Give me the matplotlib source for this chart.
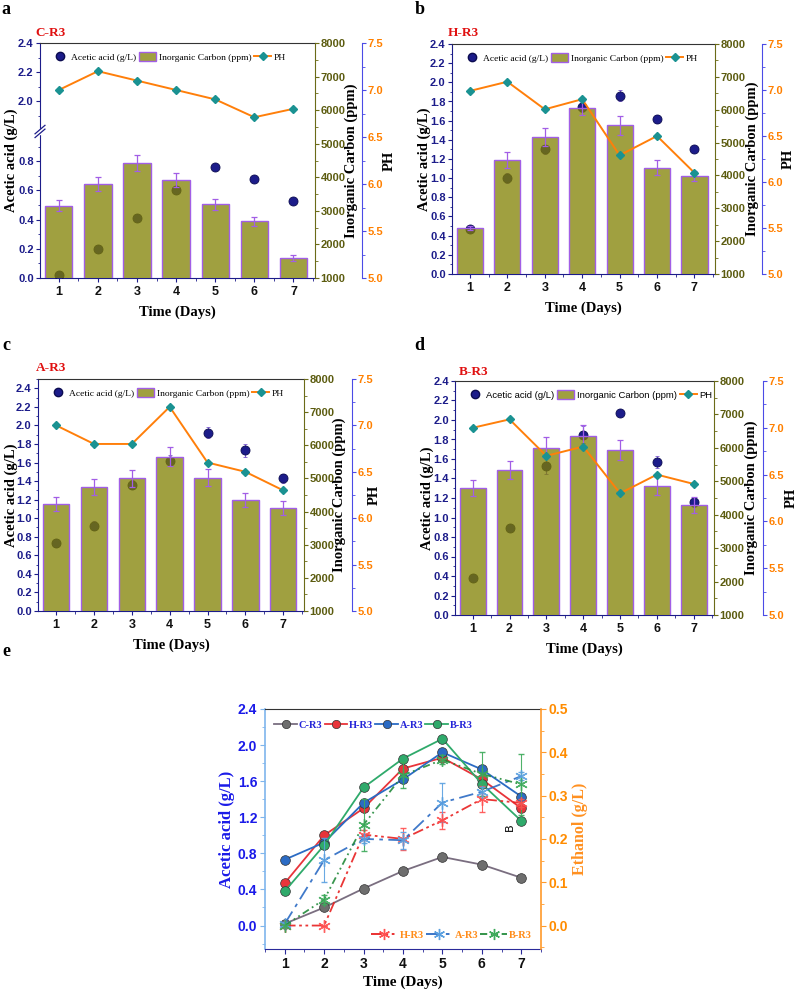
import numpy as np
import matplotlib.pyplot as plt
from matplotlib.lines import Line2D
from matplotlib.patches import Patch, Rectangle
from matplotlib.ticker import MultipleLocator, FixedLocator, FormatStrFormatter

W, H = 797, 992
SANS = ['Liberation Sans Narrow', 'Liberation Sans', 'DejaVu Sans']
SERIF = ['Liberation Serif', 'DejaVu Serif']
plt.rcParams['font.family'] = SANS
plt.rcParams['font.weight'] = 'bold'

days = [1, 2, 3, 4, 5, 6, 7]

# acetic acid (g/L)
acetic_c = [0.02, 0.20, 0.41, 0.605, 0.76, 0.675, 0.53]
acetic_h = [0.47, 1.00, 1.30, 1.74, 1.86, 1.62, 1.30]
acetic_a = [0.73, 0.92, 1.36, 1.62, 1.92, 1.73, 1.43]
acetic_b = [0.38, 0.89, 1.53, 1.85, 2.07, 1.57, 1.16]
acetic_err_c = [0.01, 0.01, 0.01, 0.01, 0.01, 0.01, 0.01]
acetic_err_h = [0.03, 0.05, 0.05, 0.05, 0.06, 0.04, 0.03]
acetic_err_a = [0.04, 0.05, 0.05, 0.06, 0.06, 0.07, 0.05]
acetic_err_b = [0.02, 0.03, 0.08, 0.09, 0.03, 0.06, 0.05]

# inorganic carbon (ppm)
ic_c = [3150, 3800, 4420, 3920, 3190, 2690, 1600]
ic_h = [2400, 4480, 5170, 6060, 5530, 4240, 3970]
ic_a = [4220, 4730, 5000, 5650, 5020, 4350, 4100]
ic_b = [4810, 5330, 6010, 6340, 5930, 4850, 4280]
ic_err_c = [165, 200, 230, 210, 170, 140, 90]
ic_err_h = [50, 240, 280, 220, 290, 240, 150]
ic_err_a = [215, 240, 250, 290, 250, 225, 205]
ic_err_b = [240, 270, 300, 330, 300, 265, 235]

# pH
ph_c = [7.0, 7.2, 7.1, 7.0, 6.9, 6.71, 6.8]
ph_h = [6.99, 7.09, 6.79, 6.90, 6.29, 6.50, 6.10]
ph_a = [7.0, 6.8, 6.8, 7.2, 6.6, 6.5, 6.3]
ph_b = [7.0, 7.09, 6.70, 6.80, 6.30, 6.50, 6.40]

# ethanol (g/L)
eth_h = [0.0, 0.0, 0.21, 0.20, 0.243, 0.292, 0.283]
eth_a = [0.004, 0.151, 0.20, 0.197, 0.284, 0.309, 0.345]
eth_b = [0.0, 0.06, 0.233, 0.347, 0.383, 0.35, 0.326]
eth_err_h = [0.0, 0.0, 0.01, 0.025, 0.02, 0.03, 0.01]
eth_err_a = [0.005, 0.05, 0.01, 0.02, 0.045, 0.01, 0.01]
eth_err_b = [0.0, 0.01, 0.06, 0.03, 0.01, 0.05, 0.07]

NAVY = '#1c1c8a'
OLIVE_TXT = '#5c5c10'
PURPLE = '#a25ee6'
ORANGE = '#ff7f0a'
TEAL = '#1a9292'


def px_rect(x0, y0, x1, y1):
    return [x0 / W, 1 - y1 / H, (x1 - x0) / W, (y1 - y0) / H]


def fwd(y):
    y = np.asarray(y, float)
    return np.where(y <= 1.0, y, np.where(y >= 1.8, y - 0.79, 1.0 + (y - 1.0) * 0.0125))


def inv(t):
    t = np.asarray(t, float)
    return np.where(t <= 1.0, t, np.where(t >= 1.01, t + 0.79, 1.0 + (t - 1.0) / 0.0125))


fig = plt.figure(figsize=(W / 100, H / 100), dpi=100)


def bar_panel(box, acetic, acetic_err, ic, ic_err, ph, ac_top, offs, broken=False, leg_family=SERIF):
    x0, y0, x1, y1 = box
    wpx, hpx = x1 - x0, y1 - y0
    ax = fig.add_axes(px_rect(*box))
    ax_ic = ax.twinx()
    ax_ph = ax.twinx()
    ax_ph.spines['right'].set_position(('axes', 1 + offs[3] / wpx))

    if broken:
        ax.set_yscale('function', functions=(fwd, inv))

    ax.errorbar(days, acetic, yerr=acetic_err, fmt='o', ms=6.5, mfc=NAVY, mec='#0c0c50',
                mew=0.6, ecolor='#7a5acc', elinewidth=0.8, capsize=1.5, zorder=3)
    ax_ic.bar(days, ic, width=0.7, color=(0.5, 0.5, 0.0, 0.75), edgecolor=PURPLE, lw=1.0)
    ax_ic.errorbar(days, ic, yerr=ic_err, fmt='none', ecolor=PURPLE, elinewidth=0.9,
                   capsize=2.2, capthick=0.9)
    ax_ph.plot(days, ph, color=ORANGE, lw=1.4, marker='D', ms=4.5, mfc=TEAL, mec=TEAL)

    ax.set_xlim(0.52, 7.55)
    ax.set_ylim(0, ac_top)
    ax_ic.set_ylim(1000, 8000)
    ax_ph.set_ylim(5.0, 7.5)

    ax.xaxis.set_major_locator(FixedLocator(days))
    ax.xaxis.set_minor_locator(MultipleLocator(0.5))
    if broken:
        ax.yaxis.set_major_locator(FixedLocator([0, 0.2, 0.4, 0.6, 0.8, 2.0, 2.2, 2.4]))
        ax.yaxis.set_minor_locator(FixedLocator([0.1, 0.3, 0.5, 0.7, 0.9, 1.9, 2.1, 2.3]))
    else:
        ax.yaxis.set_major_locator(MultipleLocator(0.2))
        ax.yaxis.set_minor_locator(MultipleLocator(0.1))
    ax.yaxis.set_major_formatter(FormatStrFormatter('%.1f'))
    ax_ic.yaxis.set_major_locator(MultipleLocator(1000))
    ax_ic.yaxis.set_minor_locator(MultipleLocator(500))
    ax_ph.yaxis.set_major_locator(MultipleLocator(0.5))
    ax_ph.yaxis.set_minor_locator(MultipleLocator(0.25))
    ax_ph.yaxis.set_major_formatter(FormatStrFormatter('%.1f'))

    ax.tick_params(axis='both', which='both', direction='out', color=NAVY)
    ax.tick_params(axis='y', labelcolor=NAVY, labelsize=8, pad=1.5)
    ax.tick_params(axis='x', labelcolor='#111111', labelsize=9, pad=3)
    ax.tick_params(which='major', length=3)
    ax.tick_params(which='minor', length=1.8)
    ax_ic.tick_params(axis='y', which='both', labelsize=8, labelcolor=OLIVE_TXT, color='#6b6b18', pad=1)
    ax_ic.tick_params(which='major', length=3)
    ax_ic.tick_params(which='minor', length=1.8)
    ax_ph.tick_params(axis='y', which='both', labelsize=8, labelcolor='#ff8000', color='#4b4be6', pad=1)
    ax_ph.tick_params(which='major', length=3)
    ax_ph.tick_params(which='minor', length=1.8)

    for s in ['left', 'bottom']:
        ax.spines[s].set_color(NAVY)
    ax.spines['top'].set_color('#333333')
    ax.spines['right'].set_visible(False)
    for s in ['left', 'top', 'bottom']:
        ax_ic.spines[s].set_visible(False)
        ax_ph.spines[s].set_visible(False)
    ax_ic.spines['right'].set_color('#6b6b18')
    ax_ph.spines['right'].set_color('#4b4be6')

    if broken:
        yb = float(fwd(1.0) + 0.004) / float(fwd(ac_top))
        ax.add_patch(Rectangle((-0.01, yb - 0.012), 0.02, 0.024, transform=ax.transAxes,
                               color='white', clip_on=False, zorder=5))
        for d in (-0.008, 0.008):
            ax.plot([-0.018, 0.018], [yb + d - 0.018, yb + d + 0.018], transform=ax.transAxes,
                    color=NAVY, lw=0.9, clip_on=False, zorder=6)

    lab = dict(family=SERIF, size=10.5, color='black', ha='center', va='center')
    ax.text(-offs[0] / wpx, 0.5, 'Acetic acid (g/L)', transform=ax.transAxes, rotation=90, **lab)
    ax.text(1 + offs[1] / wpx, 0.5, 'Inorganic Carbon (ppm)', transform=ax.transAxes, rotation=90, **lab)
    ax.text(1 + offs[2] / wpx, 0.5, 'PH', transform=ax.transAxes, rotation=90, **lab)
    ax.text(0.5, -34 / hpx, 'Time (Days)', transform=ax.transAxes, **lab)

    handles = [Line2D([], [], ls='none', marker='o', ms=6, mfc=NAVY, mec='#0c0c50'),
               Patch(facecolor=(0.5, 0.5, 0.0, 0.75), edgecolor=PURPLE, lw=1.0),
               Line2D([], [], color=ORANGE, lw=1.4, marker='D', ms=4.5, mfc=TEAL, mec=TEAL)]
    labels = ['Acetic acid (g/L)', 'Inorganic Carbon (ppm)', 'PH']
    ax_ph.legend(handles, labels, loc='upper left', bbox_to_anchor=(0.01, 1.0), ncol=3,
                 frameon=False, prop=dict(family=leg_family, size=6.8, weight='normal'),
                 handlelength=1.8, handleheight=1.2, columnspacing=0.3, handletextpad=0.3)
    return ax


bar_panel((40, 43, 315, 278), acetic_c, acetic_err_c, ic_c, ic_err_c, ph_c, 2.4,
          (29, 36, 74, 47), broken=True)
bar_panel((452, 44, 715, 274), acetic_h, acetic_err_h, ic_h, ic_err_h, ph_h, 2.4,
          (28, 37, 73, 47))
bar_panel((38, 379, 304, 611), acetic_a, acetic_err_a, ic_a, ic_err_a, ph_a, 2.5,
          (27, 35, 70, 48))
bar_panel((455, 381, 714, 615), acetic_b, acetic_err_b, ic_b, ic_err_b, ph_b, 2.4,
          (28, 37, 77, 49), leg_family=SANS)

# panel letters and titles
let = dict(family=SERIF, size=13, color='black', ha='center', va='center')
fig.text(5.5 / W, 1 - 10 / H, 'a', **let)
fig.text(419.5 / W, 1 - 10 / H, 'b', **let)
fig.text(6 / W, 1 - 345 / H, 'c', **let)
fig.text(419 / W, 1 - 345 / H, 'd', **let)
fig.text(6 / W, 1 - 652 / H, 'e', **let)
ttl = dict(family=SERIF, size=9.5, color='#e01010', ha='center', va='center')
fig.text(51 / W, 1 - 33 / H, 'C-R3', **ttl)
fig.text(463 / W, 1 - 33 / H, 'H-R3', **ttl)
fig.text(51 / W, 1 - 368 / H, 'A-R3', **ttl)
fig.text(474 / W, 1 - 372 / H, 'B-R3', **ttl)

# panel e
ax_e = fig.add_axes(px_rect(265, 709, 541, 949))
ax_et = ax_e.twinx()

series = [('C-R3', acetic_c, '#6e6e6e', '#7a6e80'),
          ('H-R3', acetic_h, '#e8343a', '#e8343a'),
          ('A-R3', acetic_a, '#2b6bc4', '#2b6bc4'),
          ('B-R3', acetic_b, '#2faa6b', '#2faa6b')]
top_handles = []
for name, vals, mcol, lcol in series:
    ax_e.plot(days, vals, color=lcol, lw=1.3, marker='o', ms=7, mfc=mcol, mec='#333333', mew=0.5)
    top_handles.append(Line2D([], [], color=lcol, lw=1.3, marker='o', ms=6, mfc=mcol, mec='#333333', mew=0.5))

eth_series = [('H-R3', eth_h, eth_err_h, '#e82020', '#ff5050', (0, (6, 2, 1.5, 2, 1.5, 2))),
              ('A-R3', eth_a, eth_err_a, '#2b6bc4', '#5aa0e0', (0, (8, 3, 2, 3))),
              ('B-R3', eth_b, eth_err_b, '#238b3b', '#3caa5a', (0, (4, 2, 1, 2, 1, 2)))]
bot_handles = []
for name, vals, err, lcol, mcol, ls in eth_series:
    ax_et.errorbar(days, vals, yerr=err, color=lcol, linestyle=ls, lw=1.3, marker=(6, 2, 0), ms=9,
                   mec=mcol, mew=1.0, ecolor=mcol, elinewidth=0.8, capsize=2, alpha=0.9)
    bot_handles.append(Line2D([], [], color=lcol, linestyle=ls, lw=1.3, marker=(6, 2, 0), ms=8,
                              mec=mcol, mew=1.0))

ax_e.set_xlim(0.5, 7.5)
ax_e.set_ylim(-0.26, 2.4)
ax_et.set_ylim(-0.26 / 2.4 * 0.5, 0.5)
ax_e.xaxis.set_major_locator(FixedLocator(days))
ax_e.xaxis.set_minor_locator(MultipleLocator(0.5))
ax_e.yaxis.set_major_locator(MultipleLocator(0.4))
ax_e.yaxis.set_minor_locator(MultipleLocator(0.2))
ax_e.yaxis.set_major_formatter(FormatStrFormatter('%.1f'))
ax_et.yaxis.set_major_locator(MultipleLocator(0.1))
ax_et.yaxis.set_minor_locator(MultipleLocator(0.05))
ax_et.yaxis.set_major_formatter(FormatStrFormatter('%.1f'))

ax_e.tick_params(axis='both', which='both', direction='out', labelsize=10)
ax_e.tick_params(axis='y', which='both', labelcolor='#1a1ae8', color='#7fb5ec', pad=2)
ax_e.tick_params(axis='x', which='both', labelcolor='#111111', color='#2a2a9a', pad=2.5)
ax_e.tick_params(which='major', length=3.5)
ax_e.tick_params(which='minor', length=2)
ax_et.tick_params(axis='y', which='both', labelsize=10, labelcolor='#ff8c00', color='#ff9a2a', pad=2)
ax_et.tick_params(which='major', length=3.5)
ax_et.tick_params(which='minor', length=2)
ax_e.spines['left'].set_color('#7fb5ec')
ax_e.spines['left'].set_linewidth(1.2)
ax_e.spines['bottom'].set_color('#2a2a9a')
ax_e.spines['top'].set_color('#333333')
ax_e.spines['right'].set_visible(False)
for s in ['left', 'top', 'bottom']:
    ax_et.spines[s].set_visible(False)
ax_et.spines['right'].set_color('#ff9a2a')
ax_et.spines['right'].set_linewidth(1.2)

lab_e = dict(family=SERIF, ha='center', va='center', rotation=90)
ax_e.text(-38 / 276, 0.5, 'Acetic acid (g/L)', transform=ax_e.transAxes, color='#1a1ae8', size=12, **lab_e)
ax_e.text(1 + 39 / 276, 0.5, 'Ethanol (g/L)', transform=ax_e.transAxes, color='#ff9020', size=11.5, **lab_e)
ax_e.text(0.5, -33 / 240, 'Time (Days)', transform=ax_e.transAxes, family=SERIF, size=11,
          ha='center', va='center', color='black')
ax_e.text(0.887, 0.508, 'B', transform=ax_e.transAxes, rotation=90, family=['DejaVu Sans'],
          size=8, weight='normal', ha='center', va='center', color='black')

leg1 = ax_et.legend(top_handles, [s[0] for s in series], loc='upper left', bbox_to_anchor=(0.0, 0.99),
                    ncol=4, frameon=False, prop=dict(family=SERIF, size=7.5),
                    handlelength=2.2, columnspacing=0.2, handletextpad=0.15, labelcolor='#2525d8')
ax_et.add_artist(leg1)
ax_et.legend(bot_handles, [s[0] for s in eth_series], loc='lower right', bbox_to_anchor=(1.0, 0.0),
             ncol=3, frameon=False, prop=dict(family=SERIF, size=7.5),
             handlelength=2.6, columnspacing=0.2, handletextpad=0.15, labelcolor='#ff8c1a')

fig.savefig('out.png', dpi=100)
